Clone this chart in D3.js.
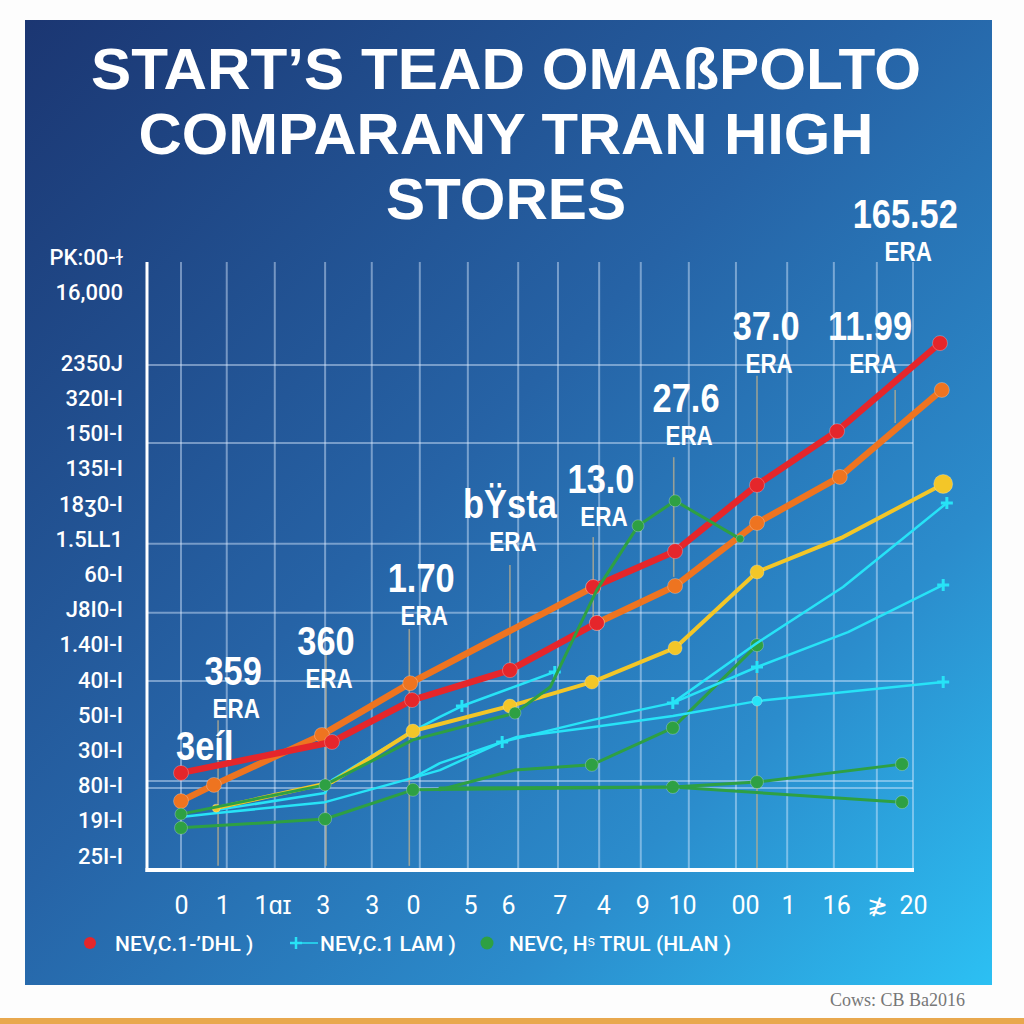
<!DOCTYPE html>
<html><head><meta charset="utf-8">
<script src="https://cdn.jsdelivr.net/npm/d3@7"></script>
<style>html,body{margin:0;padding:0;background:#fff;} svg{display:block}</style>
</head><body>
<svg id="chart" width="1024" height="1024"></svg>
<script>
// ---------- DATA ----------
const titleLines = ["START\u2019S TEAD OMA\u00DFPOLTO", "COMPARANY TRAN HIGH", "STORES"];
const yTickValues = [175,165,155,145,135,125,115,105,95,85,75,65,55,45,35,25,15,5];
const yTickLabels = ["PK:00-\u026B","16,000","","2350J","320I-I","150I-I","135I-I","18\u04E10-I","1.5LL1","60-I","J8I0-I","1.40I-I","40I-I","50I-I","30I-I","80I-I","19I-I","25I-I"];
const xTickValues = [0,0.9,2.0,3.1,4.17,5.07,6.32,7.15,8.28,9.23,10.08,10.95,12.33,13.27,14.32,15.21,16];
const xTickLabels = ["0","1","1\u0251\u026A","3","3","0","5","6","7","4","9","10","00","1","16","\u2275","20"];
const xGridValues = [0,1.0,2.05,3.15,4.17,5.22,6.27,7.37,8.24,9.14,10.05,11.1,12.13,13.25,14.27,15.21,16];
const yGridValues = [144.5,122.3,93.7,74.1,54.7,26.3,24.3];

const redSeries = [[0,28.6],[3.3,37.4],[5.05,49.3],[7.19,57.8],[9.09,71.2],null,[9.01,81.4],[10.8,91.6],[12.59,110.4],[14.34,125.7],[16.59,150.7]];
const orangeSeries = [[0,20.6],[0.72,25.2],[3.08,39.4],[5.01,54.1],[9.01,81.4],null,[9.09,71.2],[10.8,81.7],[12.59,99.6],[14.4,112.7],[16.63,137.4]];
const yellowSeries = [[0.77,18.6],[3.3,26.0],[5.07,40.5],[7.19,47.6],[8.98,54.4],[10.8,64.1],[12.59,85.7],[14.47,95.6],[16.66,110.7]];
const greenA = [[0,16.9],[3.15,25.2],[5.07,38.0],[7.3,45.6],[8.07,53.0],[9.09,80.6],[9.99,98.8],[10.8,105.9],[12.22,95.1]];
const greenB = [[0,13.0],[3.15,15.5],[5.07,23.8],[10.75,24.6],[15.76,20.3]];
const greenE = [[5.66,24.3],[10.75,24.6],[12.59,26.0],[15.76,31.1]];
const greenC = [[5.66,23.8],[7.3,29.4],[8.98,30.9],[10.75,41.4],[12.59,64.9]];
const cyanLow = [[0,16.1],[0.79,17.2],[3.15,20.3],[5.07,27.2],[5.66,31.4],[7.34,38.8],[8.98,41.6],[10.75,44.8],[12.59,49.0],[16.66,54.4]];
const cyanMid = [[5.07,27.2],[5.66,29.4],[7.02,37.4],[8.98,43.6],[10.75,48.5],[12.59,58.7],[14.58,68.6],[16.66,82.0]];
const cyanTop = [[10.75,48.5],[12.59,65.5],[14.47,81.4],[16.74,105.3]];
const cyanUpper = [[0.79,18.1],[3.15,22.9],[3.3,26.6],[5.07,40.5],[5.66,44.5],[6.14,47.6],[8.17,57.3]];

const annoValues = ["165.52","37.0","11.99","27.6","13.0","b\u0178sta","1.70","360","359","3e\u00EDl"];
const annoSub = ["ERA","ERA","ERA","ERA","ERA","ERA","ERA","ERA","ERA",""];
const annoX = [15.83,12.79,15.06,11.04,9.18,7.19,5.25,3.17,1.14,0.52];
const annoY = [183.4,151.6,151.6,131.1,108.1,101.0,80.0,62.1,53.6,32.3];
const leaderX = [12.59,15.61,10.77,9.01,7.19,4.99,3.17,0.81];
const leaderTop = [141.4,137.4,118.3,95.6,87.7,69.5,62.1,43.6];
const leaderBottom = [1.0,128.0,84.3,71.2,57.8,2.2,2.2,2.2];

const legendLabels = ["NEV,C.1-\u02BCDHL )","NEV,C.1 LAM )","NEVC, H\u02E2 TRUL (HLAN )"];
const sourceText = "Cows: CB Ba2016";

// ---------- STYLE ----------
const C = {red:"#e5262b", orange:"#ee7420", yellow:"#f3c628", green:"#2ea043", cyan:"#27e3f7"};
const seriesDefs = [
  {data:greenB, color:C.green, w:3, marks:[0,1,2,3,4], r:6.5},
  {data:greenE, color:C.green, w:3, marks:[2,3], r:6.5},
  {data:greenC, color:C.green, w:3, marks:[2,3,4], r:6.5},
  {data:cyanLow, color:C.cyan, w:2.5, marks:[8], r:5, plus:[9]},
  {data:cyanMid, color:C.cyan, w:2.5, marks:[], r:5, plus:[2,4,5,7]},
  {data:cyanTop, color:C.cyan, w:2.5, marks:[], r:5, plus:[3]},
  {data:cyanUpper, color:C.cyan, w:2.5, marks:[], r:5, plus:[5,6]},
  {data:yellowSeries, color:C.yellow, w:4, marks:[0,2,3,4,5,6,8], r:7, big:8, small:0},
  {data:orangeSeries, color:C.orange, w:6.5, marks:[0,1,2,3,4,6,7,8,9,10], r:7.5},
  {data:redSeries, color:C.red, w:6.5, marks:[0,1,2,3,4,6,7,8,9,10], r:7.5},
  {data:greenA, color:C.green, w:3, marks:[0,1,3,6,7,8], r:6, small:8}
];

const svg = d3.select("#chart");
const defs = svg.append("defs");
const grad = defs.append("linearGradient").attr("id","bg").attr("x1","0").attr("y1","0").attr("x2","1").attr("y2","1");
grad.append("stop").attr("offset","0").attr("stop-color","#1b3672");
grad.append("stop").attr("offset","0.45").attr("stop-color","#2663a6");
grad.append("stop").attr("offset","0.75").attr("stop-color","#2b8ccc");
grad.append("stop").attr("offset","1").attr("stop-color","#2cc0f3");

svg.append("rect").attr("width",1024).attr("height",1024).attr("fill","#fdfdfd");
svg.append("rect").attr("x",0).attr("y",1018).attr("width",1024).attr("height",6).attr("fill","#e8a84e");
svg.append("rect").attr("x",25).attr("y",20).attr("width",967).attr("height",965).attr("fill","url(#bg)");

const x = d3.scaleLinear().domain([0,16]).range([181,913]);
const y = d3.scaleLinear().domain([0,180]).range([873.6,240]);

// title
svg.append("g").selectAll("text").data(titleLines).join("text")
  .attr("x",506).attr("y",(d,i)=>[89,154,219][i])
  .attr("text-anchor","middle")
  .attr("textLength",(d,i)=>[830,735,240][i]).attr("lengthAdjust","spacingAndGlyphs")
  .attr("font-family","'Liberation Sans', Arial, sans-serif").attr("font-weight","bold")
  .attr("font-size",57).attr("fill","#fff").text(d=>d);

// grid
const grid = svg.append("g").attr("stroke","rgba(220,235,255,0.45)").attr("stroke-width",2);
grid.selectAll(".vg").data(xGridValues).join("line").attr("class","vg")
  .attr("x1",d=>x(d)).attr("x2",d=>x(d)).attr("y1",262).attr("y2",870);
grid.selectAll(".hg").data(yGridValues).join("line").attr("class","hg")
  .attr("x1",147).attr("x2",913).attr("y1",d=>y(d)).attr("y2",d=>y(d));

// leader lines
svg.append("g").selectAll("line").data(leaderX).join("line")
  .attr("x1",d=>x(d)).attr("x2",d=>x(d))
  .attr("y1",(d,i)=>y(leaderTop[i])).attr("y2",(d,i)=>y(leaderBottom[i]))
  .attr("stroke","rgba(190,175,140,0.75)").attr("stroke-width",1.6);

// axes lines
svg.append("line").attr("x1",147).attr("x2",147).attr("y1",262).attr("y2",872).attr("stroke","#fff").attr("stroke-width",3);
svg.append("line").attr("x1",145.5).attr("x2",914).attr("y1",870).attr("y2",870).attr("stroke","#fff").attr("stroke-width",4);

// y axis labels
const yAxis = d3.axisLeft(y).tickValues(yTickValues).tickFormat((d,i)=>yTickLabels[i]).tickSize(0).tickPadding(0);
const yg = svg.append("g").attr("transform","translate(123,0)").call(yAxis);
yg.select(".domain").remove();
yg.selectAll("text").attr("fill","#fff").attr("font-size",22).attr("font-weight",500)
  .attr("font-family","Roboto, 'Liberation Sans', sans-serif");

// x axis labels
const xAxis = d3.axisBottom(x).tickValues(xTickValues).tickFormat((d,i)=>xTickLabels[i]).tickSize(0).tickPadding(0);
const xg = svg.append("g").attr("transform","translate(0,905)").call(xAxis);
xg.select(".domain").remove();
xg.selectAll("text").attr("y",0).attr("dy","0.36em").attr("fill","#fff").attr("font-size",25)
  .attr("font-family","Roboto, 'Liberation Sans', sans-serif");

// series
const line = d3.line().defined(d=>d!==null).x(d=>x(d[0])).y(d=>y(d[1]));
const plusPath = s => `M${-s},0H${s}M0,${-s}V${s}`;
seriesDefs.forEach(s=>{
  const g = svg.append("g");
  g.append("path").attr("d",line(s.data)).attr("fill","none").attr("stroke",s.color)
    .attr("stroke-width",s.w).attr("stroke-linejoin","round").attr("stroke-linecap","round");
  g.selectAll("circle").data(s.marks).join("circle")
    .attr("cx",i=>x(s.data[i][0])).attr("cy",i=>y(s.data[i][1]))
    .attr("r",i=> i===s.big ? 9.5 : (i===s.small ? 4 : s.r))
    .attr("fill",s.color).attr("stroke","rgba(255,255,255,0.25)").attr("stroke-width",1);
  if (s.plus) g.selectAll(".pl").data(s.plus).join("path").attr("class","pl")
    .attr("transform",i=>`translate(${x(s.data[i][0])},${y(s.data[i][1])})`)
    .attr("d",plusPath(6)).attr("stroke",s.color).attr("stroke-width",3).attr("fill","none");
});

// annotations
const ag = svg.append("g").attr("fill","#fff").attr("font-family","'Liberation Sans', Arial, sans-serif").attr("font-weight","bold");
ag.selectAll(".av").data(annoValues).join("text").attr("class","av")
  .attr("transform",(d,i)=>`translate(${x(annoX[i])},${y(annoY[i])}) scale(0.86,1)`)
  .attr("text-anchor","middle").attr("font-size",40).text(d=>d);
ag.selectAll(".as").data(annoSub).join("text").attr("class","as")
  .attr("transform",(d,i)=>`translate(${x(annoX[i])+3},${y(annoY[i])+33}) scale(0.8,1)`)
  .attr("text-anchor","middle").attr("font-size",28).text(d=>d);

// legend
const lg = svg.append("g").attr("font-family","Roboto, 'Liberation Sans', sans-serif").attr("font-size",21).attr("font-weight",500).attr("fill","#fff");
lg.append("circle").attr("cx",90).attr("cy",943).attr("r",6).attr("fill",C.red);
lg.append("line").attr("x1",296).attr("x2",318).attr("y1",943).attr("y2",943).attr("stroke",C.cyan).attr("stroke-width",1.5);
lg.append("path").attr("transform","translate(296,943)").attr("d",plusPath(6)).attr("stroke",C.cyan).attr("stroke-width",2.5);
lg.append("circle").attr("cx",487).attr("cy",943).attr("r",6.5).attr("fill",C.green);
lg.selectAll("text").data(legendLabels).join("text")
  .attr("x",(d,i)=>[115,320,509][i]).attr("y",951).text(d=>d);

// source
svg.append("text").attr("x",965).attr("y",1006).attr("text-anchor","end")
  .attr("font-family","'Liberation Serif', serif").attr("font-size",18).attr("fill","#777").text(sourceText);
</script>
</body></html>
